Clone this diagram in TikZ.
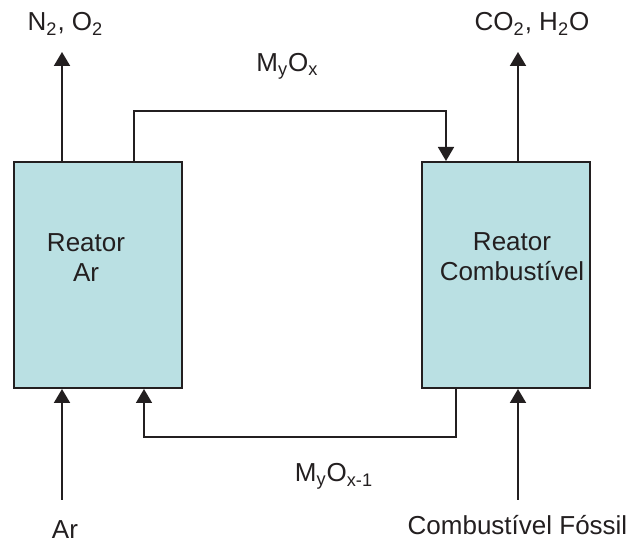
\documentclass[tikz,border=0pt]{standalone}
\usepackage{fontspec}
\setmainfont{Liberation Sans}
\usetikzlibrary{arrows.meta}
\definecolor{boxfill}{RGB}{186,224,227}
\definecolor{ink}{RGB}{35,31,32}
\begin{document}
\begin{tikzpicture}[x=0.5pt,y=-0.5pt,
  reactor/.style={draw=ink, line width=1pt, fill=boxfill, minimum width=84pt, minimum height=113pt, inner sep=0},
  tip/.style={-{Triangle[width=8pt,length=7pt]}},
  flow/.style={draw=ink, line width=1pt, tip},
  loopline/.style={draw=ink, line width=0.8pt, tip},
  lbl/.style={font=\fontsize{13}{15}\selectfont, text=ink, inner sep=0}]
\useasboundingbox (0,0) rectangle (633,545);
\node[reactor] (ar) at (98,275) {};
\node[reactor] (fr) at (506,275) {};
\node[lbl, align=center] (artxt) at (86,258) {Reator\\Ar};
\node[lbl, align=center] (frtxt) at (512,257) {Reator\\Combustível};
\node[lbl, anchor=base] (n2) at (65.5,31) {N\textsubscript{2}, O\textsubscript{2}};
\node[lbl, anchor=base] (co2) at (532,31) {CO\textsubscript{2}, H\textsubscript{2}O};
\node[lbl, anchor=base] (myox) at (287.5,72) {M\textsubscript{y}O\textsubscript{x}};
\node[lbl, anchor=base] (myox1) at (334,482) {M\textsubscript{y}O\textsubscript{x-1}};
\node[lbl, anchor=base] (arin) at (65,539) {Ar};
\node[lbl, anchor=base] (fuel) at (517.5,535) {Combustível Fóssil};
\coordinate (n2tip) at (62,52);
\coordinate (co2tip) at (518,52);
\coordinate (arfoot) at (62,500);
\coordinate (fuelfoot) at (518,500);
\coordinate (topL) at (134,111);
\coordinate (topR) at (446,111);
\coordinate (botL) at (144,437);
\coordinate (botR) at (456,437);
\draw[flow] (n2tip |- ar.north) -- (n2tip);
\draw[flow] (co2tip |- fr.north) -- (co2tip);
\draw[flow] (arfoot) -- (arfoot |- ar.south);
\draw[flow] (fuelfoot) -- (fuelfoot |- fr.south);
\draw[loopline] (topL |- ar.north) -- (topL) -- (topR) -- (topR |- fr.north);
\draw[loopline] (botR |- fr.south) -- (botR) -- (botL) -- (botL |- ar.south);
\end{tikzpicture}
\end{document}
